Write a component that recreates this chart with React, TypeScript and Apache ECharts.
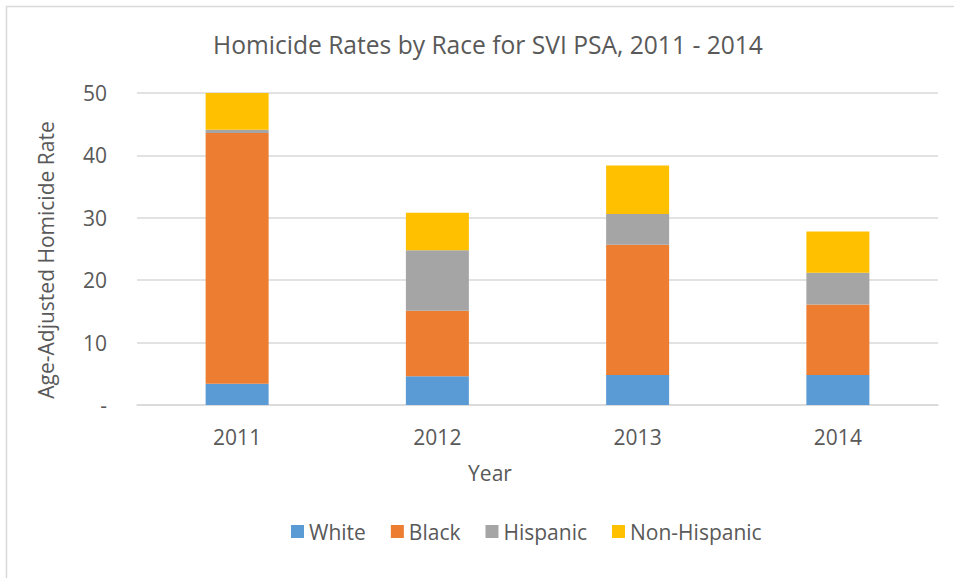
import React, { useEffect, useRef } from "react";
import * as echarts from "echarts";

const years = ["2011", "2012", "2013", "2014"];
const white = [3.4, 4.6, 4.8, 4.8];
const black = [40.2, 10.5, 20.9, 11.3];
const hispanic = [0.5, 9.7, 4.9, 5.1];
const nonHispanic = [5.9, 6.0, 7.8, 6.6];
const seriesNames = ["White", "Black", "Hispanic", "Non-Hispanic"];
const colors = ["#5B9BD5", "#ED7D31", "#A5A5A5", "#FFC000"];

const FONT = "'Open Sans', 'Noto Sans', sans-serif";
const TXT = "#595959";

export default function App() {
  const ref = useRef<HTMLDivElement>(null);
  useEffect(() => {
    if (!ref.current) return;
    const chart = echarts.init(ref.current, null, { renderer: "svg" });
    const dataSets = [white, black, hispanic, nonHispanic];
    chart.setOption({
      animation: false,
      backgroundColor: "#ffffff",
      textStyle: { fontFamily: FONT },
      title: {
        text: "Homicide Rates by Race for SVI PSA, 2011 - 2014",
        left: 208,
        top: 27,
        textStyle: { fontFamily: FONT, fontSize: 24.6, fontWeight: "normal", color: TXT },
      },
      graphic: [
        {
          type: "rect",
          shape: { x: 6.5, y: 6.5, width: 960, height: 600 },
          style: { fill: "none", stroke: "#d9d9d9", lineWidth: 1.5 },
          silent: true,
        },
        {
          type: "text",
          x: 490,
          y: 473,
          style: {
            text: "Year",
            fontFamily: FONT,
            fontSize: 21,
            fill: TXT,
            textAlign: "center",
            textVerticalAlign: "middle",
          },
          silent: true,
        },
        {
          type: "text",
          x: 46,
          y: 260,
          rotation: Math.PI / 2,
          style: {
            text: "Age-Adjusted Homicide Rate",
            fontFamily: FONT,
            fontSize: 21,
            fill: TXT,
            textAlign: "center",
            textVerticalAlign: "middle",
          },
          silent: true,
        },
      ],
      legend: {
        data: seriesNames,
        top: 516,
        left: 286,
        itemWidth: 13,
        itemHeight: 13,
        itemGap: 25,
        icon: "rect",
        textStyle: { fontFamily: FONT, fontSize: 21, color: TXT },
      },
      grid: { left: 137, right: 16, top: 93, bottom: 173 },
      xAxis: {
        type: "category",
        data: years,
        axisLine: { lineStyle: { color: "#d9d9d9", width: 1.5 } },
        axisTick: { show: false },
        axisLabel: { fontFamily: FONT, fontSize: 21, color: TXT, margin: 21 },
      },
      yAxis: {
        type: "value",
        min: 0,
        max: 50,
        interval: 10,
        axisLine: { show: false },
        axisTick: { show: false },
        splitLine: { lineStyle: { color: "#d9d9d9", width: 1.5 } },
        axisLabel: {
          fontFamily: FONT,
          fontSize: 21,
          color: TXT,
          margin: 30,
          formatter: (v: number) => (v === 0 ? "-" : String(v)),
        },
      },
      series: seriesNames.map((name, i) => ({
        name,
        type: "bar",
        stack: "total",
        barWidth: 63,
        data: dataSets[i],
        itemStyle: { color: colors[i] },
      })),
    });
    return () => chart.dispose();
  }, []);
  return (
    <div
      ref={ref}
      style={{ position: "absolute", left: 0, top: 0, width: 954, height: 578 }}
    />
  );
}
